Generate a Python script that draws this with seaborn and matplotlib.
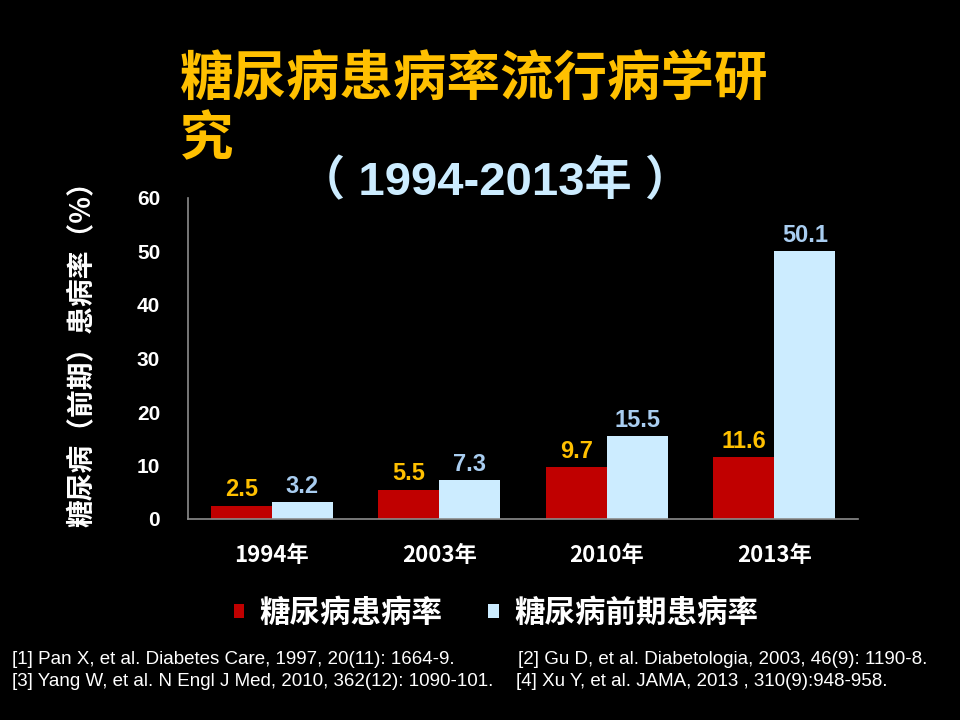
import matplotlib
matplotlib.use("Agg")
import matplotlib.pyplot as plt
import seaborn as sns
import pandas as pd
from matplotlib.patches import Patch

years = ["1994年", "2003年", "2010年", "2013年"]
diabetes = [2.5, 5.5, 9.7, 11.6]
prediabetes = [3.2, 7.3, 15.5, 50.1]
series_names = ["糖尿病患病率", "糖尿病前期患病率"]
y_ticks = [0, 10, 20, 30, 40, 50, 60]

sns.set_theme(style="dark")
plt.rcParams['font.family'] = ['Liberation Sans', 'Noto Sans CJK SC', 'DejaVu Sans']

df = pd.DataFrame({
    "year": years * 2,
    "value": diabetes + prediabetes,
    "series": [series_names[0]] * 4 + [series_names[1]] * 4,
})

RED = "#C00000"
BLUE = "#CCECFF"
ORANGE = "#FFC000"
LBLUE = "#A9CDF0"
CJK = ['Noto Sans CJK SC']

fig = plt.figure(figsize=(9.6, 7.2), dpi=100, facecolor="black")
ax = fig.add_axes([188/960, 1 - 519/720, (858-188)/960, (519-198)/720])
ax.set_facecolor("black")

sns.barplot(data=df, x="year", y="value", hue="series", palette=[RED, BLUE],
            width=0.73, ax=ax, legend=False, saturation=1, linewidth=0, edgecolor="none")

ax.set_ylim(0, 60)
ax.set_xlim(-0.5, 3.5)
ax.set_yticks(y_ticks)
ax.set_yticklabels([str(t) for t in y_ticks], color="white", fontsize=15, fontweight="bold")
ax.set_xticks(range(4))
ax.set_xticklabels(years, color="white", fontsize=16, fontweight="bold", family=CJK)
ax.tick_params(axis="y", length=0, pad=20)
ax.tick_params(axis="x", length=0, pad=18)
ax.grid(False)
ax.set_xlabel("")
ax.set_ylabel("糖尿病（前期）患病率（%）", color="white", fontsize=20, fontweight="bold",
              family=CJK)
ax.yaxis.set_label_coords(-0.137, 0.535)
for s in ["top", "right"]:
    ax.spines[s].set_visible(False)
for s in ["left", "bottom"]:
    ax.spines[s].set_visible(True)
    ax.spines[s].set_color("#8c8c8c")
    ax.spines[s].set_linewidth(1.2)

containers = ax.containers
ax.bar_label(containers[0], labels=[f"{v}" for v in diabetes], padding=3,
             color=ORANGE, fontsize=17, fontweight="bold")
ax.bar_label(containers[1], labels=[f"{v}" for v in prediabetes], padding=3,
             color=LBLUE, fontsize=17, fontweight="bold")

# Title
fig.text(180/960, 1 - 80/720, "糖尿病患病率流行病学研", color=ORANGE, fontsize=38.5,
         fontweight="bold", family=CJK, va="center", ha="left")
fig.text(180/960, 1 - 140/720, "究", color=ORANGE, fontsize=38.5,
         fontweight="bold", family=CJK, va="center", ha="left")
fig.text(495/960, 1 - 183/720, "（ 1994-2013年 ）", color=BLUE, fontsize=34,
         fontweight="bold", family=['Liberation Sans', 'Noto Sans CJK SC'],
         va="center", ha="center")

# Legend
handles = [Patch(facecolor=RED, edgecolor="none"), Patch(facecolor=BLUE, edgecolor="none")]
leg = fig.legend(handles, series_names, loc="center", bbox_to_anchor=(496/960, 1 - 613/720),
                 ncol=2, frameon=False, handlelength=0.34, handleheight=0.34,
                 handletextpad=0.5, columnspacing=1.5,
                 prop={"family": CJK, "weight": "bold", "size": 22})
for t in leg.get_texts():
    t.set_color("white")

# References
refs = [
    (12, 660, "[1] Pan X, et al. Diabetes Care, 1997, 20(11): 1664-9."),
    (518, 660, "[2] Gu D, et al. Diabetologia, 2003, 46(9): 1190-8."),
    (12, 681, "[3] Yang W, et al. N Engl J Med, 2010, 362(12): 1090-101."),
    (516, 681, "[4] Xu Y, et al. JAMA, 2013 , 310(9):948-958."),
]
for x, y, t in refs:
    fig.text(x/960, 1 - y/720, t, color="white", fontsize=13.5, va="center", ha="left")

fig.savefig("out.png", dpi=100, facecolor="black")
